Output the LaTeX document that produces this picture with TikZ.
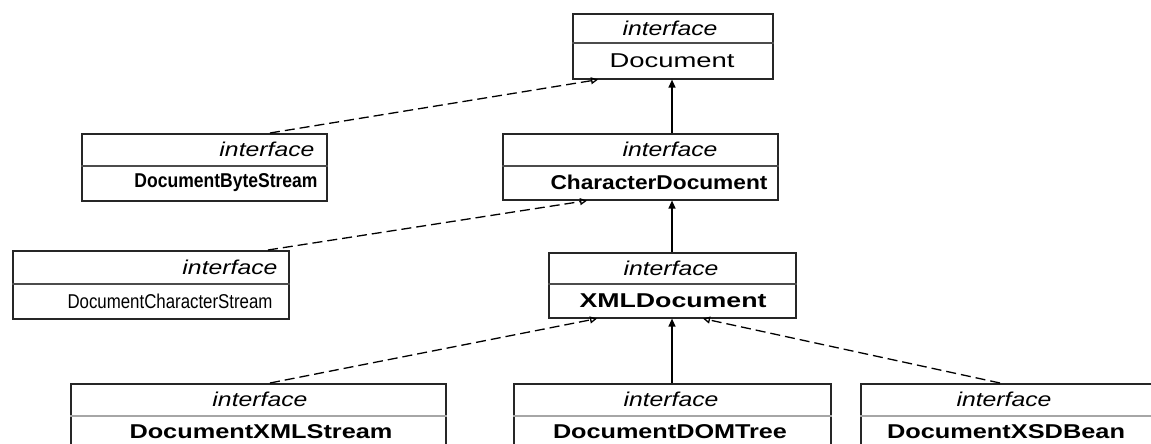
\documentclass[tikz,border=0pt]{standalone}
\usepackage{fontspec}
\setmainfont{Liberation Sans}
\usepackage{graphicx}
\usetikzlibrary{arrows.meta}
\tikzset{
  x=1pt, y=-1pt,
  umlbox/.style={draw=black!85, line width=1.6pt, rectangle, inner sep=0pt, anchor=north west},
  divider/.style={draw=black!70, line width=1.6pt},
  lightdivider/.style={draw=black!35, line width=1.2pt},
  lbl/.style={inner sep=0pt, font=\fontsize{20}{24}\selectfont},
  extends/.style={draw=black, line width=1.3pt, -{Triangle[length=8pt,width=7pt]}},
  realizes/.style={draw=black, line width=1.3pt, dash pattern=on 10pt off 5pt, -{Triangle[open,length=7pt,width=7pt]}},
}
% stereotype and name labels, stretched to a fixed width
\newcommand\stereo[3]{\node[lbl] (#1) at (#2,#3) {\resizebox{95pt}{\height}{\itshape interface}};}
\newcommand\clsname[5]{\node[lbl] (#1) at (#2,#3) {\resizebox{#4pt}{\height}{#5}};}
\begin{document}
\begin{tikzpicture}
\useasboundingbox (0,0) rectangle (1151,444);
\clip (0,0) rectangle (1151,444);

% Document
\node[umlbox, minimum width=200pt, minimum height=65pt] (docbox) at (572,13) {};
\draw[divider] (docbox.west |- 0,43) -- (docbox.east |- 0,43);
\stereo{docst}{670}{28}
\clsname{docnm}{672}{61}{125}{Document}

% DocumentByteStream
\node[umlbox, minimum width=245pt, minimum height=67pt] (bytebox) at (81,133) {};
\draw[divider] (bytebox.west |- 0,166) -- (bytebox.east |- 0,166);
\stereo{bytest}{267}{149}
\clsname{bytenm}{226}{183}{183}{\bfseries DocumentByteStream}

% CharacterDocument
\node[umlbox, minimum width=275pt, minimum height=66pt] (charbox) at (502,133) {};
\draw[divider] (charbox.west |- 0,166) -- (charbox.east |- 0,166);
\stereo{charst}{670}{149}
\clsname{charnm}{659}{182}{217}{\bfseries CharacterDocument}

% DocumentCharacterStream
\node[umlbox, minimum width=276pt, minimum height=68pt] (dcsbox) at (12,250) {};
\draw[divider] (dcsbox.west |- 0,284) -- (dcsbox.east |- 0,284);
\stereo{dcsst}{230}{267}
\clsname{dcsnm}{170}{301}{205}{DocumentCharacterStream}

% XMLDocument
\node[umlbox, minimum width=247pt, minimum height=65pt] (xmlbox) at (548,252) {};
\draw[divider] (xmlbox.west |- 0,284) -- (xmlbox.east |- 0,284);
\stereo{xmlst}{671}{268}
\clsname{xmlnm}{673}{301}{187}{\bfseries XMLDocument}

% DocumentXMLStream
\node[umlbox, minimum width=375pt, minimum height=90pt] (xsbox) at (70,383) {};
\draw[lightdivider] (xsbox.west |- 0,416) -- (xsbox.east |- 0,416);
\stereo{xsst}{260}{399}
\clsname{xsnm}{261}{432}{263}{\bfseries DocumentXMLStream}

% DocumentDOMTree
\node[umlbox, minimum width=317pt, minimum height=90pt] (dombox) at (513,383) {};
\draw[lightdivider] (dombox.west |- 0,416) -- (dombox.east |- 0,416);
\stereo{domst}{671}{399}
\clsname{domnm}{670}{432}{234}{\bfseries DocumentDOMTree}

% DocumentXSDBean
\node[umlbox, minimum width=320pt, minimum height=90pt] (xsdbox) at (860,383) {};
\draw[lightdivider] (xsdbox.west |- 0,416) -- (xsdbox.east |- 0,416);
\stereo{xsdst}{1004}{399}
\clsname{xsdnm}{1006}{432}{238}{\bfseries DocumentXSDBean}

% generalisations
\draw[extends] (charbox.north -| 672,0) -- (docbox.south -| 672,0);
\draw[extends] (xmlbox.north -| 672,0) -- (charbox.south -| 672,0);
\draw[extends] (dombox.north -| 672,0) -- (xmlbox.south -| 672,0);

% dashed links
\draw[realizes] (bytebox.north -| 270,0) -- (docbox.south -| 598,0);
\draw[realizes] (dcsbox.north -| 268,0) -- (charbox.south -| 587,0);
\draw[realizes] (xsbox.north -| 270,0) -- (xmlbox.south -| 597,0);
\draw[realizes] (xsdbox.north -| 1000,0) -- (xmlbox.south -| 703,0);
\end{tikzpicture}
\end{document}
